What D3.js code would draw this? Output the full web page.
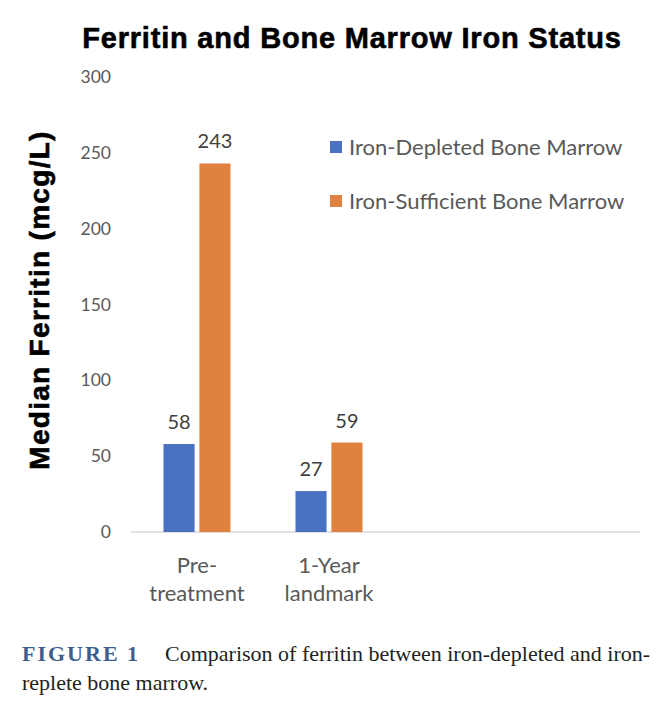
<!DOCTYPE html>
<html>
<head>
<meta charset="utf-8">
<script src="https://cdn.jsdelivr.net/npm/d3@7"></script>
<style>
  body { margin: 0; background: #fff; }
  svg text { font-family: Lato, "Noto Sans", sans-serif; }
</style>
</head>
<body>
<svg id="chart" width="666" height="704"></svg>
<script>
// data
const categories = [["Pre-", "treatment"], ["1-Year", "landmark"]]
const seriesNames = ["Iron-Depleted Bone Marrow", "Iron-Sufficient Bone Marrow"]
const depleted = [58, 27]
const sufficient = [243, 59]
const yTicks = [0, 50, 100, 150, 200, 250, 300]
const colors = ["#4a71c1", "#e0823f"]

const svg = d3.select("#chart")
const labelColor = "#595959"

const x = d3.scaleBand()
  .domain(categories.map(c => c.join(" ")))
  .range([131, 395])

const x1 = d3.scaleBand()
  .domain([0, 1])
  .range([32.5, 99.5])
  .paddingInner(0.134)

const y = d3.scaleLinear()
  .domain([0, 300])
  .range([532, 77])

// title
svg.append("text")
  .attr("x", 352).attr("y", 48)
  .attr("text-anchor", "middle")
  .style("font-family", "'Liberation Sans', Arial, sans-serif")
  .style("font-weight", "bold")
  .style("font-size", "29px")
  .style("letter-spacing", "0.8px")
  .attr("fill", "#000")
  .attr("stroke", "#000").attr("stroke-width", 0.6)
  .text("Ferritin and Bone Marrow Iron Status")

// y axis (labels only)
const yAxis = svg.append("g")
  .attr("transform", "translate(111,0)")
  .call(d3.axisLeft(y).tickValues(yTicks).tickSize(0).tickPadding(0))
yAxis.select(".domain").remove()
yAxis.selectAll("text")
  .style("font-family", "Lato, sans-serif")
  .style("font-size", "17.5px")
  .attr("fill", labelColor)

// baseline
svg.append("line")
  .attr("x1", 131).attr("x2", 640)
  .attr("y1", y(0)).attr("y2", y(0))
  .attr("stroke", "#d9d9d9").attr("stroke-width", 1.3)

svg.append("text")
  .attr("transform", "translate(49,300) rotate(-90)")
  .attr("text-anchor", "middle")
  .style("font-family", "'Liberation Sans', Arial, sans-serif")
  .style("font-weight", "bold")
  .style("font-size", "28px")
  .style("letter-spacing", "1.3px")
  .attr("fill", "#000")
  .attr("stroke", "#000").attr("stroke-width", 0.6)
  .text("Median Ferritin (mcg/L)")

// bars
const rows = categories.map((c, i) => ({ cat: c.join(" "), vals: [depleted[i], sufficient[i]] }))

const groups = svg.selectAll(".grp")
  .data(rows)
  .enter().append("g")
  .attr("class", "grp")
  .attr("transform", d => "translate(" + x(d.cat) + ",0)")

groups.selectAll("rect")
  .data(d => d.vals)
  .enter().append("rect")
  .attr("x", (d, i) => x1(i))
  .attr("width", x1.bandwidth())
  .attr("y", d => y(d))
  .attr("height", d => y(0) - y(d))
  .attr("fill", (d, i) => colors[i])

groups.selectAll(".val")
  .data(d => d.vals)
  .enter().append("text")
  .attr("class", "val")
  .attr("x", (d, i) => x1(i) + x1.bandwidth() / 2)
  .attr("y", d => y(d) - 15)
  .attr("text-anchor", "middle")
  .style("font-size", "20px")
  .attr("fill", "#404040")
  .text(d => d)

// category labels
categories.forEach(c => {
  const t = svg.append("text")
    .attr("x", x(c.join(" ")) + x.bandwidth() / 2)
    .attr("text-anchor", "middle")
    .style("font-size", "22px")
    .attr("fill", labelColor)
  c.forEach((line, k) => {
    t.append("tspan")
      .attr("x", x(c.join(" ")) + x.bandwidth() / 2)
      .attr("y", 573 + k * 28)
      .text(line)
  })
})

// legend
const legend = svg.selectAll(".leg")
  .data(seriesNames)
  .enter().append("g")
  .attr("class", "leg")
  .attr("transform", (d, i) => "translate(330," + (147 + i * 54) + ")")

legend.append("rect")
  .attr("x", 0).attr("y", -6)
  .attr("width", 12).attr("height", 12)
  .attr("fill", (d, i) => colors[i])

legend.append("text")
  .attr("x", 19).attr("y", 8)
  .style("font-size", "22px")
  .attr("fill", labelColor)
  .text(d => d)

// caption
const cap = svg.append("text")
  .attr("x", 22).attr("y", 661)
  .style("font-family", "'Liberation Serif', 'DejaVu Serif', serif")
  .style("font-size", "22px")
  .attr("fill", "#231f20")
cap.append("tspan")
  .attr("fill", "#3d5f8f")
  .style("font-weight", "bold")
  .style("letter-spacing", "2px")
  .text("FIGURE 1")
cap.append("tspan")
  .attr("x", 165)
  .text("Comparison of ferritin between iron-depleted and iron-")

svg.append("text")
  .attr("x", 22).attr("y", 690)
  .style("font-family", "'Liberation Serif', 'DejaVu Serif', serif")
  .style("font-size", "22px")
  .attr("fill", "#231f20")
  .text("replete bone marrow.")
</script>
</body>
</html>
